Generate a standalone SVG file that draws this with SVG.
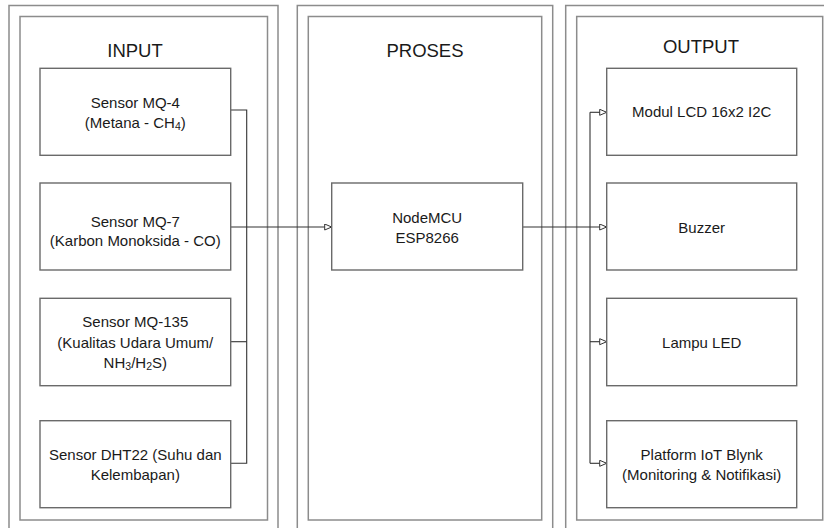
<svg xmlns="http://www.w3.org/2000/svg" width="824" height="528" viewBox="0 0 824 528">
<defs>
<style>
.frame{fill:none;stroke:#8c8c8c;stroke-width:1.5}
.box{fill:#ffffff;stroke:#6a6a6a;stroke-width:1.4}
.title{font-family:"Liberation Sans",Arial,sans-serif;font-size:18.5px;fill:#1a1a1a;text-anchor:middle}
.lbl{font-family:"Liberation Sans",Arial,sans-serif;font-size:15px;fill:#1a1a1a;text-anchor:middle}
.sub{font-size:10.5px}
.conn{fill:none;stroke:#333333;stroke-width:1.1}
</style>
<marker id="arr" markerUnits="userSpaceOnUse" markerWidth="9" markerHeight="9" refX="7.5" refY="3.5" orient="auto" viewBox="0 0 9 9">
<path d="M0.5,0.5 L7.5,3.5 L0.5,6.5 Z" fill="#ffffff" stroke="#333333" stroke-width="1"/>
</marker>
</defs>
<rect width="824" height="528" fill="#ffffff"/>

<g id="frame-input">
<rect class="frame" x="9" y="5.5" width="269" height="540"/>
<rect class="frame" x="20" y="16.5" width="247.5" height="503.5"/>
<text class="title" x="135" y="56.7">INPUT</text>
</g>
<g id="frame-proses">
<rect class="frame" x="297.3" y="5.5" width="255.4" height="540"/>
<rect class="frame" x="308.3" y="16.5" width="233.4" height="503.5"/>
<text class="title" x="425" y="56.7">PROSES</text>
</g>
<g id="frame-output">
<rect class="frame" x="565.7" y="5.5" width="270" height="540"/>
<rect class="frame" x="576.7" y="16.5" width="246" height="503.5"/>
<text class="title" x="701" y="53.3">OUTPUT</text>
</g>

<g id="connectors">
<path class="conn" d="M230.7,110 H246.7 V463.3 H230.7"/>
<path class="conn" d="M230.7,341.7 H246.7"/>
<path class="conn" d="M230.7,227 H331.7" marker-end="url(#arr)"/>
<path class="conn" d="M522.7,227 H606.7" marker-end="url(#arr)"/>
<path class="conn" d="M590,112.3 V463.3"/>
<path class="conn" d="M590,112.3 H606.7" marker-end="url(#arr)"/>
<path class="conn" d="M590,341.7 H606.7" marker-end="url(#arr)"/>
<path class="conn" d="M590,463.3 H606.7" marker-end="url(#arr)"/>
</g>

<g id="mq4">
<rect class="box" x="40" y="68.3" width="190.7" height="87"/>
<text class="lbl" x="135.3" y="108.3">Sensor MQ-4</text>
<text class="lbl" x="135.3" y="128">(Metana - CH<tspan class="sub" dy="1.5">4</tspan><tspan dy="-1.5">)</tspan></text>
</g>
<g id="mq7">
<rect class="box" x="40" y="183" width="190.7" height="87"/>
<text class="lbl" x="135.3" y="226.5">Sensor MQ-7</text>
<text class="lbl" x="135.3" y="246">(Karbon Monoksida - CO)</text>
</g>
<g id="mq135">
<rect class="box" x="40" y="298.3" width="190.7" height="87.4"/>
<text class="lbl" x="135.3" y="327">Sensor MQ-135</text>
<text class="lbl" x="135.3" y="347.5">(Kualitas Udara Umum/</text>
<text class="lbl" x="135.3" y="368">NH<tspan class="sub" dy="1.5">3</tspan><tspan dy="-1.5">/H</tspan><tspan class="sub" dy="1.5">2</tspan><tspan dy="-1.5">S)</tspan></text>
</g>
<g id="dht22">
<rect class="box" x="40" y="420.7" width="190.7" height="87"/>
<text class="lbl" x="135.3" y="460">Sensor DHT22 (Suhu dan</text>
<text class="lbl" x="135.3" y="480">Kelembapan)</text>
</g>

<g id="nodemcu">
<rect class="box" x="331.7" y="183" width="191" height="87"/>
<text class="lbl" x="427.2" y="223">NodeMCU</text>
<text class="lbl" x="427.2" y="243">ESP8266</text>
</g>

<g id="lcd">
<rect class="box" x="606.7" y="68.3" width="190" height="87"/>
<text class="lbl" x="701.7" y="117.3">Modul LCD 16x2 I2C</text>
</g>
<g id="buzzer">
<rect class="box" x="606.7" y="183" width="190" height="87"/>
<text class="lbl" x="701.7" y="232.5">Buzzer</text>
</g>
<g id="led">
<rect class="box" x="606.7" y="298.3" width="190" height="87.4"/>
<text class="lbl" x="701.7" y="347.5">Lampu LED</text>
</g>
<g id="blynk">
<rect class="box" x="606.7" y="420.7" width="190" height="87"/>
<text class="lbl" x="701.7" y="460">Platform IoT Blynk</text>
<text class="lbl" x="701.7" y="480">(Monitoring &amp; Notifikasi)</text>
</g>
</svg>
